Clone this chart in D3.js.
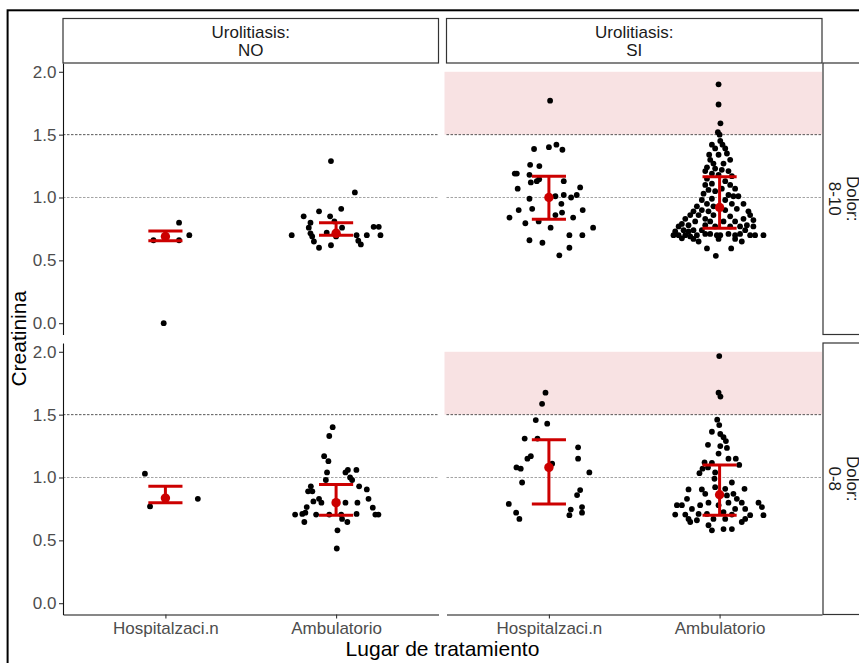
<!DOCTYPE html>
<html>
<head>
<meta charset="utf-8">
<script src="https://cdn.jsdelivr.net/npm/d3@7"></script>
<style>
  body { margin: 0; background: #fff; }
  svg { display: block; }
  text { font-family: "Liberation Sans", Arial, sans-serif; }
</style>
</head>
<body>
<script>
// facets and categories
const columns = ["NO", "SI"];
const rows = ["8-10", "0-8"];
const categories = ["Hospitalzaci.n", "Ambulatorio"];
const yTicks = [0, 0.5, 1.0, 1.5, 2.0];
const refLines = [1.0, 1.5];
const band = [1.5, 2.0]; // shaded in the SI column only

// points: [jitter in category steps, creatinina]
const no_810_hosp = [[0.08,0.80],[0.14,0.70],[-0.07,0.66],[0.08,0.66],[-0.01,0.00]];
const no_810_amb = [[-0.03,1.29],[0.11,1.04],[-0.19,0.85],[-0.10,0.89],[-0.035,0.85],[0.03,0.91],
  [-0.15,0.80],[-0.16,0.76],[-0.01,0.81],[0.035,0.76],[-0.26,0.70],[-0.15,0.715],[-0.14,0.69],
  [-0.13,0.65],[-0.10,0.60],[-0.03,0.62],[-0.055,0.72],[0,0.69],[0.12,0.70],[0.13,0.656],
  [0.145,0.627],[0.18,0.70],[0.22,0.767],[0.25,0.767],[0.26,0.70]];
const no_08_hosp = [[-0.12,1.03],[-0.09,0.77],[0.19,0.83]];
const no_08_amb = [[-0.02,1.40],[-0.04,1.33],[-0.07,1.17],[-0.045,1.13],[-0.053,1.04],[0.069,1.06],
  [0.119,1.06],[0.055,1.04],[0.082,1.00],[0.094,0.98],[-0.06,0.98],[-0.148,0.93],[0.135,0.93],
  [-0.164,0.89],[-0.139,0.89],[0.18,0.905],[0.19,0.83],[-0.133,0.81],[-0.10,0.83],[-0.086,0.80],
  [0.055,0.80],[0.125,0.80],[-0.172,0.765],[0.215,0.76],[-0.24,0.705],[-0.198,0.71],[-0.18,0.72],
  [-0.117,0.705],[-0.04,0.705],[0.03,0.705],[0.12,0.71],[0.23,0.705],[0.248,0.705],[-0.186,0.646],
  [0.066,0.646],[0.035,0.67],[0.008,0.58],[0.004,0.435]];
const si_810_hosp = [[0.007,1.77],[-0.087,1.386],[0,1.40],[0.044,1.42],[0.079,1.38],[-0.11,1.26],
  [-0.056,1.25],[-0.2,1.19],[-0.188,1.19],[-0.114,1.18],[-0.106,1.12],[-0.071,1.13],[-0.057,1.145],
  [0.087,1.13],[0.183,1.08],[-0.183,1.07],[-0.114,0.99],[0.038,1.01],[0.087,1.02],[0.13,1.00],
  [0.163,1.02],[0.073,0.95],[-0.098,0.91],[-0.177,0.90],[0.077,0.88],[0.198,0.90],[0.038,0.86],
  [-0.231,0.84],[0.142,0.84],[-0.138,0.795],[-0.06,0.81],[0.01,0.76],[0.259,0.76],[0.12,0.70],
  [0.196,0.70],[-0.114,0.66],[-0.038,0.64],[0.12,0.60],[0.061,0.54]];
const si_810_amb = [[-0.006,1.90],[-0.006,1.74],[0.005,1.59],[-0.01,1.52],[0,1.50],[-0.045,1.42],
  [0.004,1.45],[0.017,1.42],[0.033,1.39],[-0.026,1.39],[-0.061,1.34],[0.043,1.35],[-0.006,1.34],
  [0.062,1.30],[-0.055,1.30],[-0.036,1.27],[0.023,1.27],[-0.074,1.24],[-0.026,1.23],[0.013,1.22],
  [0.052,1.21],[-0.084,1.21],[-0.045,1.19],[-0.006,1.18],[0.072,1.17],[-0.074,1.15],[0.033,1.13],
  [-0.045,1.11],[-0.084,1.10],[0.062,1.10],[0.013,1.07],[0.091,1.07],[-0.065,1.06],[-0.026,1.05],
  [-0.094,1.03],[0.052,1.02],[0.081,1.01],[0.11,1.01],[-0.045,0.99],[-0.104,0.98],[0.033,0.98],
  [-0.074,0.95],[0.072,0.95],[0.14,0.95],[-0.133,0.93],[-0.036,0.93],[0.101,0.91],[-0.104,0.90],
  [0.033,0.90],[-0.153,0.89],[-0.065,0.89],[0.169,0.89],[-0.172,0.86],[-0.123,0.86],[-0.036,0.86],
  [0.062,0.85],[0.179,0.86],[-0.201,0.83],[-0.084,0.83],[0.14,0.83],[0.198,0.82],[-0.143,0.81],
  [-0.055,0.81],[0.023,0.81],[0.091,0.81],[-0.221,0.79],[-0.182,0.78],[-0.084,0.78],[0.16,0.78],
  [-0.24,0.77],[-0.026,0.77],[0.062,0.77],[0.12,0.77],[0.198,0.77],[-0.211,0.74],[-0.153,0.74],
  [-0.104,0.74],[0.15,0.74],[-0.26,0.73],[-0.182,0.73],[-0.27,0.70],[-0.24,0.70],[-0.201,0.70],
  [-0.172,0.69],[-0.133,0.70],[-0.084,0.71],[-0.055,0.71],[-0.016,0.70],[0.004,0.70],[0.052,0.71],
  [0.091,0.70],[0.12,0.71],[0.179,0.70],[0.208,0.70],[0.257,0.70],[-0.221,0.675],[-0.153,0.67],
  [-0.006,0.67],[0.091,0.67],[0.13,0.65],[-0.123,0.65],[-0.074,0.595],[0.068,0.595],[-0.022,0.536]];
const si_08_hosp = [[-0.02,1.675],[-0.04,1.586],[-0.077,1.457],[-0.01,1.428],[-0.142,1.31],
  [-0.067,1.31],[0.171,1.24],[-0.126,1.15],[-0.106,1.17],[0.171,1.15],[0.019,1.11],[-0.19,1.08],
  [-0.165,1.07],[0.237,1.04],[-0.157,0.96],[0.183,0.90],[0.165,0.86],[-0.235,0.79],[-0.192,0.72],
  [-0.173,0.67],[0.128,0.745],[0.194,0.765],[0.194,0.72],[0.12,0.70]];
const si_08_amb = [[-0.002,1.966],[-0.006,1.675],[0.005,1.644],[-0.014,1.46],[-0.002,1.417],
  [-0.045,1.364],[0.004,1.346],[0.023,1.32],[0.037,1.29],[-0.068,1.26],[0.004,1.25],[0.043,1.235],
  [-0.006,1.19],[0.052,1.15],[0.095,1.15],[-0.088,1.12],[-0.045,1.116],[0.115,1.10],[-0.1,1.07],
  [-0.068,1.08],[-0.118,1.034],[-0.026,1.04],[-0.03,0.99],[0.072,0.96],[-0.182,0.905],[-0.104,0.905],
  [-0.026,0.923],[0.033,0.91],[0.146,0.91],[-0.084,0.87],[0.043,0.857],[0.081,0.87],[-0.191,0.83],
  [0.101,0.83],[-0.065,0.80],[0.13,0.80],[-0.25,0.78],[-0.114,0.78],[-0.006,0.78],[0.052,0.80],
  [0.228,0.80],[0.248,0.765],[-0.162,0.75],[0.091,0.75],[0.15,0.75],[-0.26,0.705],[-0.201,0.705],
  [-0.123,0.71],[-0.074,0.71],[0.023,0.725],[0.072,0.705],[0.179,0.70],[0.257,0.70],[-0.182,0.67],
  [-0.133,0.66],[-0.036,0.67],[0.033,0.67],[0.15,0.67],[-0.172,0.646],[-0.065,0.62],[0.13,0.646],
  [-0.045,0.58],[0.023,0.59],[0.072,0.59],[-0.221,0.78]];

// summaries: [centre, lower, upper]
const stats_no_810 = [[0.69,0.656,0.733],[0.715,0.70,0.80]];
const stats_no_08 = [[0.836,0.80,0.93],[0.80,0.70,0.945]];
const stats_si_810 = [[1.00,0.826,1.17],[0.92,0.755,1.166]];
const stats_si_08 = [[1.08,0.79,1.30],[0.863,0.70,1.10]];

const groups = [
  {col: "NO", row: "8-10", pts: [no_810_hosp, no_810_amb], stats: stats_no_810},
  {col: "SI", row: "8-10", pts: [si_810_hosp, si_810_amb], stats: stats_si_810},
  {col: "NO", row: "0-8", pts: [no_08_hosp, no_08_amb], stats: stats_no_08},
  {col: "SI", row: "0-8", pts: [si_08_hosp, si_08_amb], stats: stats_si_08}
];

const width = 859, height = 663;
const marginLeft = 63, marginTop = 63;
const colW = 375.5, colGap = 8, rowH = 271.5, rowGap = 8.5;
const stripH = 44.5;
const red = "#cc0000";

const svg = d3.select("body").append("svg")
    .attr("width", width)
    .attr("height", height);

// outer frame
svg.append("rect")
    .attr("x", 7.6).attr("y", 10.3)
    .attr("width", 900).attr("height", 700)
    .attr("fill", "none").attr("stroke", "#000").attr("stroke-width", 2);

const y = d3.scaleLinear().domain([-0.09, 2.07]).range([rowH, 0]);
const x = d3.scalePoint().domain(categories).range([0, colW]).padding(0.6);
const step = x.step();

function styleAxis(g) {
    g.select(".domain").attr("stroke", "#111").attr("stroke-width", 1.1);
    g.selectAll(".tick line").attr("stroke", "#333").attr("stroke-width", 1.1);
    g.selectAll(".tick text").attr("fill", "#4d4d4d").attr("font-size", 17)
        .attr("font-family", '"Liberation Sans", Arial, sans-serif');
}

groups.forEach(grp => {
    const ci = columns.indexOf(grp.col), ri = rows.indexOf(grp.row);
    const g = svg.append("g")
        .attr("transform", `translate(${marginLeft + ci * (colW + colGap)},${marginTop + ri * (rowH + rowGap)})`);

    if (grp.col === "SI") {
        g.append("rect")
            .attr("x", -2).attr("width", colW + 2)
            .attr("y", y(band[1])).attr("height", y(band[0]) - y(band[1]))
            .attr("fill", "#f8e2e3");
    }

    g.selectAll(".ref").data(refLines).enter().append("line")
        .attr("x1", 0).attr("x2", colW)
        .attr("y1", d => y(d)).attr("y2", d => y(d))
        .attr("stroke", d => d === 1.5 ? "#444" : "#999")
        .attr("stroke-width", 0.9)
        .attr("stroke-dasharray", "2.5,1.5");

    grp.pts.forEach((pts, k) => {
        const cx = x(categories[k]);
        g.selectAll(null).data(pts).enter().append("circle")
            .attr("cx", d => cx + d[0] * step)
            .attr("cy", d => y(d[1]))
            .attr("r", 2.9)
            .attr("fill", "#000");
    });

    grp.stats.forEach((s, k) => {
        const cx = x(categories[k]), hw = 0.1 * step;
        const eb = g.append("g").attr("stroke", red).attr("stroke-width", 3);
        eb.append("line").attr("x1", cx).attr("x2", cx).attr("y1", y(s[1])).attr("y2", y(s[2]));
        eb.append("line").attr("x1", cx - hw).attr("x2", cx + hw).attr("y1", y(s[1])).attr("y2", y(s[1]));
        eb.append("line").attr("x1", cx - hw).attr("x2", cx + hw).attr("y1", y(s[2])).attr("y2", y(s[2]));
        g.append("circle").attr("cx", cx).attr("cy", y(s[0])).attr("r", 4.7).attr("fill", red);
    });

    if (ci === 0) {
        g.append("g")
            .call(d3.axisLeft(y).tickValues(yTicks).tickFormat(d3.format(".1f"))
                .tickSize(4).tickPadding(2.5).tickSizeOuter(0))
            .call(styleAxis);
    }
    if (ri === rows.length - 1) {
        g.append("g")
            .attr("transform", `translate(0,${rowH})`)
            .call(d3.axisBottom(x).tickSize(4).tickPadding(3.5).tickSizeOuter(0))
            .call(styleAxis);
    }
});

// column strips
columns.forEach((c, i) => {
    const sx = marginLeft + i * (colW + colGap);
    svg.append("rect")
        .attr("x", sx).attr("y", marginTop - stripH)
        .attr("width", colW).attr("height", stripH)
        .attr("fill", "#fff").attr("stroke", "#333").attr("stroke-width", 1.2);
    const t = svg.append("text")
        .attr("text-anchor", "middle")
        .attr("font-size", 17).attr("fill", "#1a1a1a");
    t.append("tspan").attr("x", sx + colW / 2).attr("y", 37.5).text("Urolitiasis:");
    t.append("tspan").attr("x", sx + colW / 2).attr("y", 56).text(c);
});

// row strips (the right edge is cut by the picture, as in the original)
rows.forEach((r, j) => {
    const sy = marginTop + j * (rowH + rowGap);
    const sx = marginLeft + 2 * colW + colGap + 1;
    svg.append("rect")
        .attr("x", sx).attr("y", sy)
        .attr("width", stripH).attr("height", rowH)
        .attr("fill", "#fff").attr("stroke", "#333").attr("stroke-width", 1.2);
    const t = svg.append("text")
        .attr("transform", `translate(${sx},${sy + rowH / 2}) rotate(90)`)
        .attr("text-anchor", "middle")
        .attr("font-size", 17).attr("fill", "#1a1a1a");
    t.append("tspan").attr("x", 0).attr("y", -23.5).text("Dolor:");
    t.append("tspan").attr("x", 0).attr("y", -5.5).text(r);
});

// axis titles
svg.append("text")
    .attr("x", marginLeft + colW + colGap / 2).attr("y", 656)
    .attr("text-anchor", "middle").attr("font-size", 21).attr("fill", "#000")
    .text("Lugar de tratamiento");

svg.append("text")
    .attr("transform", `translate(25.5,${marginTop + rowH + rowGap / 2}) rotate(-90)`)
    .attr("text-anchor", "middle").attr("font-size", 21).attr("fill", "#000")
    .text("Creatinina");
</script>
</body>
</html>
